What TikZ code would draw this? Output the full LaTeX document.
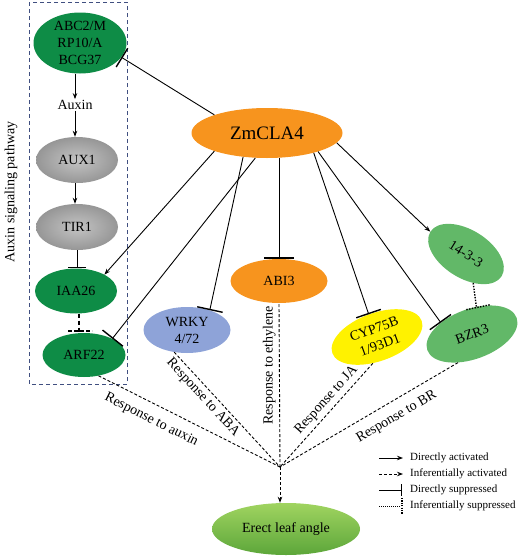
\documentclass[tikz,border=0pt]{standalone}
\usepackage{fontspec}
\setmainfont{Liberation Serif}
\usetikzlibrary{shapes.geometric,arrows.meta,calc}
\definecolor{dkgreen}{RGB}{14,140,70}
\definecolor{mdgreen}{RGB}{98,184,104}
\definecolor{orng}{RGB}{247,148,30}
\definecolor{lav}{RGB}{142,163,216}
\definecolor{yel}{RGB}{255,242,0}
\definecolor{boxblue}{RGB}{64,79,128}
\definecolor{lgreen}{RGB}{160,212,96}
\definecolor{dgreen2}{RGB}{92,166,58}
\definecolor{grayin}{RGB}{196,196,196}
\definecolor{grayout}{RGB}{150,150,150}
\begin{document}
\begin{tikzpicture}[x=1pt,y=-1pt,
  every node/.style={font=\fontsize{14}{17}\selectfont},
  oval/.style={ellipse, inner sep=0pt, align=center},
  grayoval/.style={oval, inner color=grayin, outer color=grayout},
  conn/.style={line width=0.9pt},
  act/.style={conn,-{Stealth[length=6pt,width=4.5pt]}},
  supp/.style={conn,-{Bar[width=#1,line width=1.4pt]}},
  supp/.default=26pt,
  infl/.style={conn,dash pattern=on 3pt off 2pt},
  infact/.style={infl,-{Stealth[length=6pt,width=4.5pt]}},
  dotl/.style={line width=1.4pt,dash pattern=on 1.4pt off 1.4pt},
  legtext/.style={anchor=west,inner sep=0pt,font=\fontsize{11}{13}\selectfont}
]
\useasboundingbox (0,0) rectangle (520,557);

% pathway box
\draw[boxblue,line width=1pt,dash pattern=on 4pt off 3pt] (29,2) rectangle (127,384);
\node[rotate=90] (asp) at (11,192) {Auxin signaling pathway};

% nodes
\node[oval, fill=dkgreen, minimum width=93pt, minimum height=61pt, inner sep=-3pt] (abc) at (80,43) {ABC2/M\\RP10/A\\BCG37};
\node[inner sep=1pt] (auxin) at (75,105) {Auxin};
\node[grayoval, minimum width=82pt, minimum height=46pt] (aux1) at (77,160) {AUX1};
\node[grayoval, minimum width=82pt, minimum height=46pt] (tir1) at (77,227) {TIR1};
\node[oval, fill=dkgreen, minimum width=82pt, minimum height=45pt] (iaa) at (76,291) {IAA26};
\node[oval, fill=dkgreen, minimum width=83pt, minimum height=44pt] (arf) at (84,355) {ARF22};
\node[oval, fill=orng, minimum width=151pt, minimum height=50pt, font=\fontsize{19}{22}\selectfont] (cla) at (267,133) {ZmCLA4};
\node[oval, fill=orng, minimum width=97pt, minimum height=44pt] (abi) at (279,281) {ABI3};
\node[oval, fill=lav, minimum width=87pt, minimum height=46pt] (wrky) at (187,330) {WRKY\\4/72};
\node[oval, fill=yel, rotate=20, minimum width=95pt, minimum height=48pt] (cyp) at (377,337) {CYP75B\\1/93D1};
\node[oval, fill=mdgreen, rotate=20, minimum width=95pt, minimum height=50pt] (bzr) at (472,334) {BZR3};
\node[oval, fill=mdgreen, rotate=-32, minimum width=84pt, minimum height=48pt] (f33) at (466,254) {14-3-3};
\node[oval, top color=lgreen, bottom color=dgreen2, minimum width=148pt, minimum height=52pt] (erect) at (286,529) {Erect leaf angle};
\coordinate (conv) at (280,467);

% auxin pathway
\draw[act] (abc.south -| auxin.north) -- (auxin.north);
\draw[act] (auxin.south) -- (auxin.south |- aux1.north);
\draw[act] (aux1.south -| auxin.south) -- (auxin.south |- tir1.north);
\draw[supp=18pt] (tir1.south) -- (iaa.north -| tir1.south);
\coordinate (ia) at ($(iaa.south)+(3,0)$);
\coordinate (ib) at (ia |- arf.north);
\draw[line width=1.6pt,dash pattern=on 4pt off 3pt] (ia) -- (ib);
\draw[line width=1.6pt,dash pattern=on 4pt off 2pt] ($(ib)+(-11,-2)$) -- ($(ib)+(13,-2)$);

% from ZmCLA4
\draw[supp=22pt] (cla.161) -- (abc.-19);
\draw[act] (cla.199) -- (iaa.30);
\draw[supp] (cla.245) -- (arf.30);
\draw[supp] (cla.225) -- (wrky.41);
\draw[supp=30pt] (abi.north |- cla.south) -- (abi.north);
\draw[supp] (cla.-23) -- (cyp.north);
\draw[supp] (cla.-20) -- (bzr.140);
\draw[act] (cla.-8) -- (f33.west);
\draw[dotl] (f33.-44) -- (bzr.61);
\draw[dotl] ($(bzr.61)+(-10,3)$) -- ($(bzr.61)+(14,-2)$);

% responses
\draw[infl] (arf.-55) -- node[sloped, below=6pt, pos=.33] {Response to auxin} (conv);
\draw[infl] (wrky.240) -- node[sloped, below, pos=.34] {Response to ABA} (conv);
\draw[infl] (conv) -- node[rotate=90, anchor=south, pos=.62] {Response to ethylene} (abi.south);
\draw[infl] (cyp.241) -- node[sloped, above, pos=.42] {Response to JA} (conv);
\draw[infl] (bzr.224) -- node[sloped, below=6pt, pos=.39] {Response to BR} (conv);
\draw[infact] (conv) -- (conv |- erect.north);

% legend
\node[legtext] (lg1) at (410,458) {Directly activated};
\node[legtext] (lg2) at (410,474) {Inferentially activated};
\node[legtext] (lg3) at (410,490) {Directly suppressed};
\node[legtext] (lg4) at (410,506) {Inferentially suppressed};
\draw[act] ($(lg1.west)+(-31,0)$) -- ($(lg1.west)+(-7,0)$);
\draw[infact] ($(lg2.west)+(-31,0)$) -- ($(lg2.west)+(-7,0)$);
\draw[supp=12pt] ($(lg3.west)+(-31,0)$) -- ($(lg3.west)+(-8,0)$);
\draw[line width=0.9pt,dash pattern=on 1pt off 1pt] ($(lg4.west)+(-31,0)$) -- ($(lg4.west)+(-9,0)$);
\draw[line width=1.2pt,dash pattern=on 1.2pt off 1.2pt] ($(lg4.west)+(-8,-8)$) -- ($(lg4.west)+(-8,8)$);
\end{tikzpicture}
\end{document}
